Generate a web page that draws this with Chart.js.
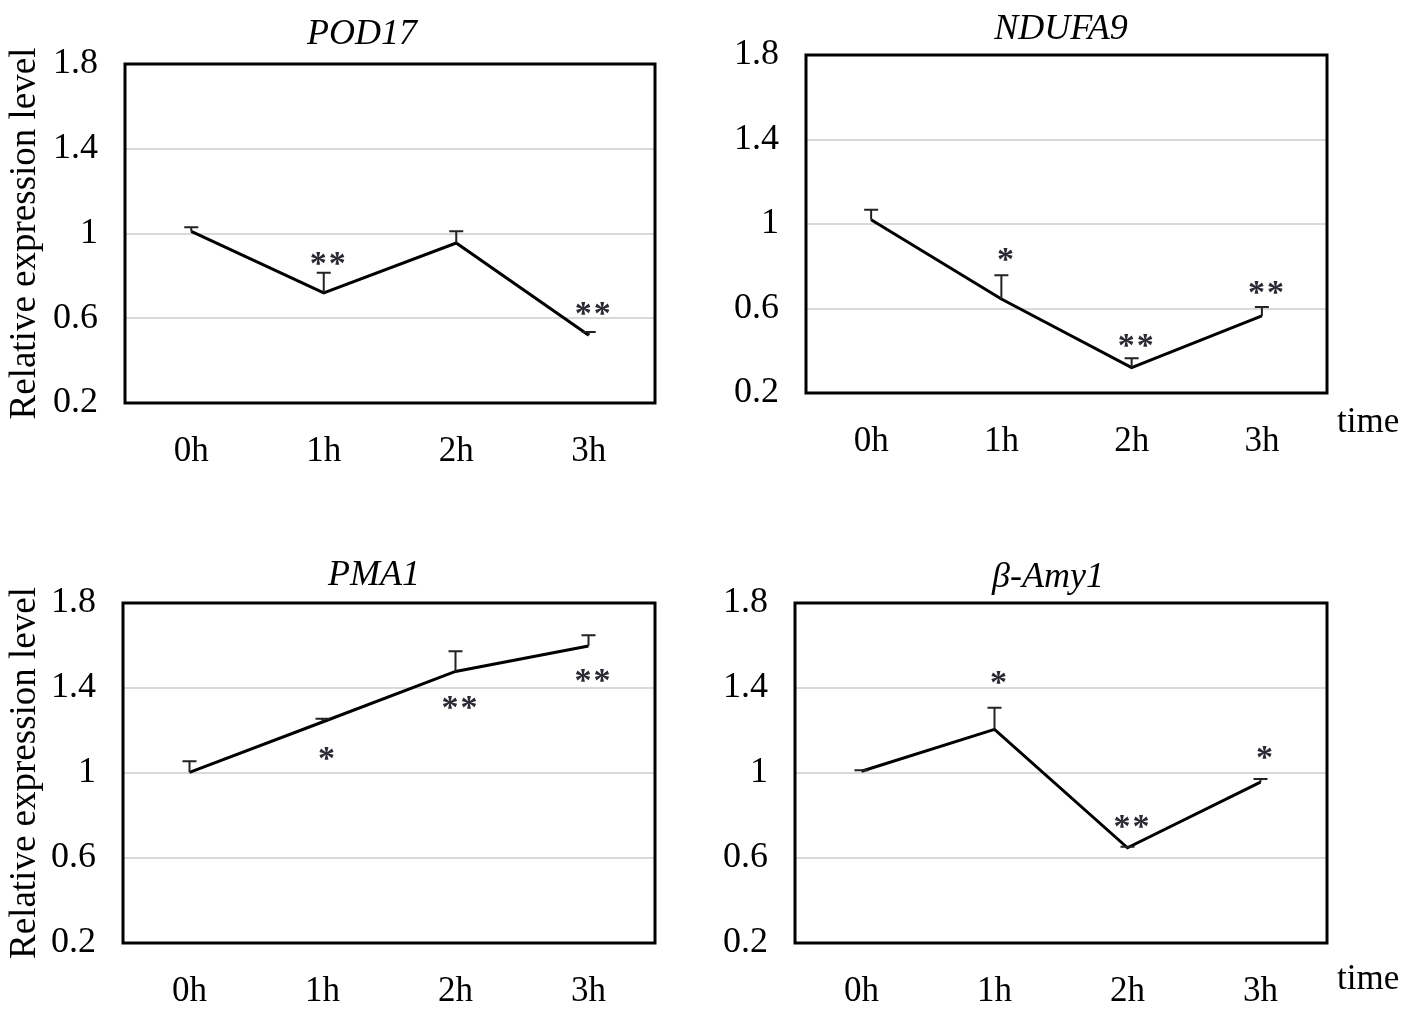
<!DOCTYPE html>
<html>
<head>
<meta charset="utf-8">
<script src="https://cdn.jsdelivr.net/npm/chart.js@4.4.1/dist/chart.umd.min.js"></script>
<style>
  html, body { margin: 0; padding: 0; background: #fff; overflow: hidden; }
  #wrap { position: relative; width: 1417px; height: 1013px; }
  canvas { position: absolute; }
</style>
</head>
<body>
<div id="wrap">
  <canvas id="c1"></canvas>
  <canvas id="c2"></canvas>
  <canvas id="c3"></canvas>
  <canvas id="c4"></canvas>
</div>
<script>
// shared axes
const times = ['0h', '1h', '2h', '3h'];
const yTicks = [0.2, 0.6, 1, 1.4, 1.8];

// POD17
const pod17 = [1.01, 0.72, 0.955, 0.52];
const pod17Err = [0.02, 0.095, 0.056, 0.015];
const pod17Stars = ['', '**', '', '**'];
const pod17StarAt = [null, 0.885, null, 0.65];

// NDUFA9
const ndufa9 = [1.02, 0.645, 0.32, 0.565];
const ndufa9Err = [0.047, 0.112, 0.045, 0.042];
const ndufa9Stars = ['', '*', '**', '**'];
const ndufa9StarAt = [null, 0.86, 0.45, 0.70];

// PMA1
const pma1 = [1.003, 1.24, 1.478, 1.598];
const pma1Err = [0.052, 0.015, 0.095, 0.05];
const pma1Stars = ['', '*', '**', '**'];
const pma1StarAt = [null, 1.095, 1.335, 1.462];

// beta-Amy1
const amy1 = [1.008, 1.205, 0.648, 0.957];
const amy1Err = [0.005, 0.102, 0.005, 0.015];
const amy1Stars = ['', '*', '**', '*'];
const amy1StarAt = [null, 1.45, 0.775, 1.10];

const serif = 'Liberation Serif';

// where each panel sits on the page (canvas centre = title centre)
const panels = [
  { id: 'c1', title: 'POD17', values: pod17, err: pod17Err, stars: pod17Stars, starAt: pod17StarAt,
    left: 0, top: 0, width: 724, height: 480,
    area: { left: 125, right: 655, top: 64, bottom: 403 }, titleY: 35, yTitle: true, time: false },
  { id: 'c2', title: 'NDUFA9', values: ndufa9, err: ndufa9Err, stars: ndufa9Stars, starAt: ndufa9StarAt,
    left: 706, top: 0, width: 710, height: 480,
    area: { left: 100, right: 621, top: 55, bottom: 393 }, titleY: 29.5, yTitle: false, time: true, timeDy: 30 },
  { id: 'c3', title: 'PMA1', values: pma1, err: pma1Err, stars: pma1Stars, starAt: pma1StarAt,
    left: 0, top: 506, width: 748, height: 507,
    area: { left: 123, right: 655, top: 97, bottom: 437 }, titleY: 70, yTitle: true, time: false },
  { id: 'c4', title: 'β-Amy1', values: amy1, err: amy1Err, stars: amy1Stars, starAt: amy1StarAt,
    left: 690, top: 506, width: 716, height: 507,
    area: { left: 105, right: 637, top: 97, bottom: 437 }, titleY: 72, yTitle: false, time: true, timeDy: 37 }
];

const decor = {
  id: 'decor',
  afterDatasetsDraw(chart) {
    const p = chart.options.plugins.decor.panel;
    const { ctx, scales: { x, y }, chartArea: a } = chart;
    ctx.save();
    // plot frame
    ctx.strokeStyle = '#000';
    ctx.lineWidth = 3;
    ctx.strokeRect(a.left, a.top, a.right - a.left, a.bottom - a.top);
    // upper error bars
    ctx.strokeStyle = '#222';
    ctx.lineWidth = 2;
    p.values.forEach((v, i) => {
      const px = x.getPixelForValue(i);
      const y0 = y.getPixelForValue(v);
      const y1 = y.getPixelForValue(v + p.err[i]);
      ctx.beginPath();
      ctx.moveTo(px, y0);
      ctx.lineTo(px, y1);
      ctx.moveTo(px - 7, y1);
      ctx.lineTo(px + 7, y1);
      ctx.stroke();
    });
    // significance marks
    const size = 34;
    ctx.fillStyle = '#2a2a35';
    ctx.font = 'bold ' + size + 'px "' + serif + '"';
    ctx.textAlign = 'center';
    ctx.textBaseline = 'alphabetic';
    p.stars.forEach((s, i) => {
      if (!s) return;
      const cx = x.getPixelForValue(i) + 4;
      const cy = y.getPixelForValue(p.starAt[i]);
      for (let k = 0; k < s.length; k++) {
        ctx.fillText('*', cx + (k - (s.length - 1) / 2) * 19, cy + 0.47 * size);
      }
    });
    // "time" label beside the x axis
    if (p.time) {
      ctx.fillStyle = '#000';
      ctx.font = '35px "' + serif + '"';
      ctx.textAlign = 'left';
      ctx.textBaseline = 'middle';
      ctx.fillText('time', a.right + 10, a.bottom + p.timeDy);
    }
    ctx.restore();
  }
};

panels.forEach(p => {
  const cv = document.getElementById(p.id);
  cv.width = p.width;
  cv.height = p.height;
  cv.style.left = p.left + 'px';
  cv.style.top = p.top + 'px';
  cv.style.width = p.width + 'px';
  cv.style.height = p.height + 'px';

  const titleLine = 36 * 1.2;
  const tTop = p.titleY - titleLine / 2;
  const tBottom = p.area.top - tTop - titleLine;

  new Chart(cv.getContext('2d'), {
    type: 'line',
    data: {
      labels: times,
      datasets: [{
        data: p.values,
        borderColor: '#000',
        borderWidth: 3,
        pointRadius: 0,
        tension: 0,
        fill: false
      }]
    },
    options: {
      responsive: false,
      animation: false,
      devicePixelRatio: 1,
      layout: { padding: 0 },
      plugins: {
        legend: { display: false },
        tooltip: { enabled: false },
        title: {
          display: true,
          text: p.title,
          color: '#000',
          font: { family: serif, size: 36, style: 'italic', weight: 'normal' },
          padding: { top: tTop, bottom: tBottom }
        },
        decor: { panel: p }
      },
      scales: {
        x: {
          offset: true,
          grid: { display: false, drawTicks: false },
          border: { display: false },
          ticks: {
            color: '#000',
            font: { family: serif, size: 35 },
            padding: 28,
            maxRotation: 0,
            autoSkip: false
          },
          afterFit: s => { s.height = p.height - p.area.bottom; }
        },
        y: {
          min: 0.2,
          max: 1.8,
          afterBuildTicks: s => { s.ticks = yTicks.map(v => ({ value: v })); },
          grid: { color: '#d9d9d9', lineWidth: 2, drawTicks: false },
          border: { display: false },
          ticks: {
            color: '#000',
            font: { family: serif, size: 36 },
            padding: 27,
            callback: v => String(v)
          },
          title: {
            display: p.yTitle,
            text: 'Relative expression level',
            color: '#000',
            font: { family: serif, size: 37 },
            padding: { top: 3, bottom: 0 }
          },
          afterFit: s => { s.width = p.area.left; }
        },
        // empty right-hand gutter so the title stays centred on the canvas
        gutter: {
          type: 'linear',
          position: 'right',
          display: true,
          grid: { display: false, drawTicks: false },
          border: { display: false },
          ticks: { display: false },
          afterFit: s => { s.width = p.width - p.area.right; }
        }
      }
    },
    plugins: [decor]
  });
});
</script>
</body>
</html>
